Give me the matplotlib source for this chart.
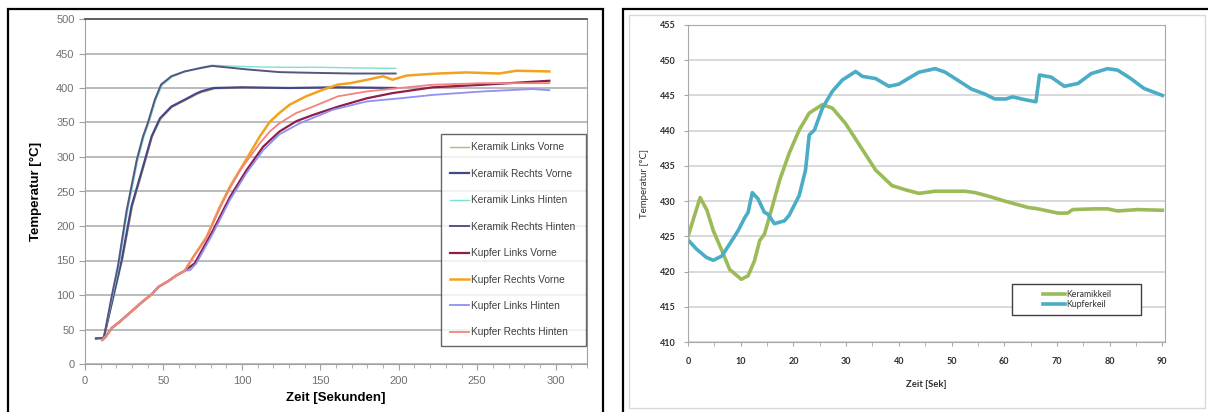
import matplotlib
matplotlib.use("Agg")
import matplotlib.pyplot as plt
from matplotlib.patches import Rectangle

# ---- left panel: Keramik / Kupfer heating curves ----
krh_t = [7, 12, 17, 21, 26.5, 33, 37, 40, 44.5, 48.5, 55, 63.5, 74, 81, 90, 103, 124, 145, 170, 198]
krh_T = [37, 38, 98, 142, 222, 296, 330, 349, 383, 405, 417, 424, 429, 432, 430, 427, 423, 422, 421, 421]
klh_t = [7, 12, 17.5, 21.6, 27.2, 33.7, 37.7, 40.7, 45.2, 49.2, 55.5, 64, 74, 81, 90, 103, 124, 150, 175, 198]
klh_T = [37, 38, 98, 142, 222, 296, 330, 349, 383, 404, 416, 424, 430, 433, 432, 431, 430, 430, 429, 428.5]
krv_t = [7, 12, 18, 23.5, 29.7, 37, 42.5, 47.8, 55, 63.5, 71, 74, 82, 100, 130, 160, 198]
krv_T = [37, 38, 98, 152, 229, 286, 330, 356, 373, 383, 392, 395, 400, 401, 400, 401, 400]
klv_t = [7, 12, 18.4, 24, 30.3, 37.6, 43, 48.3, 55.5, 64, 71.5, 75, 83, 100, 130, 160, 198]
klv_T = [37, 38, 98, 152, 229, 286, 330, 355, 372, 382, 391, 394, 399, 400, 400, 400, 400]

kup_t0 = [11, 13, 17, 22, 27.5, 30, 36.5, 42.5, 47, 53, 58, 63.5]
kup_T0 = [35, 39, 52, 61, 72, 77, 90, 101, 112, 120, 128, 135]
krvo_t = kup_t0 + [69, 77.5, 86, 92.4, 98.7, 105, 111.5, 117.8, 124, 130.6, 141, 151.8,
                   161.3, 169, 180, 190, 196, 205, 211, 225, 243, 264, 275, 296]
krvo_T = kup_T0 + [155, 184, 228, 257, 281, 305, 330, 351, 364, 376, 388, 397.6,
                   405, 407, 412, 417, 412, 418, 419, 421, 422.6, 421, 425, 424]
krhi_t = kup_t0 + [69, 77.5, 86, 92.4, 98.7, 105, 111.5, 117.8, 124, 134.8, 145.4,
                   161.3, 179.5, 200.6, 221.7, 253.5, 296]
krhi_T = kup_T0 + [155, 183, 226, 255, 280, 300, 320, 337, 349, 364, 373,
                   388, 395, 400, 404.7, 407, 407]
klvo_t = kup_t0 + [70, 81.7, 92.4, 103, 113.6, 124, 134.8, 145.4, 161.3, 179.5,
                   196, 221.7, 253.5, 296]
klvo_T = kup_T0 + [146, 194, 242, 281, 315, 337, 352, 361, 373, 385,
                   392.6, 401, 404.7, 410.5]
klhi_t = kup_t0 + [67, 71, 81.7, 92.4, 103, 113.6, 124, 137, 158, 179.5,
                   200.6, 221.7, 253.5, 285, 296]
klhi_T = kup_T0 + [136, 146, 190, 238, 277, 310, 333, 349, 368.5, 380.5,
                   385, 390, 395, 398.5, 396.8]

left_series = [
    ("Keramik Links Vorne", klv_t, klv_T, "#B8B874", 1.0),
    ("Keramik Rechts Vorne", krv_t, krv_T, "#46468A", 1.6),
    ("Keramik Links Hinten", klh_t, klh_T, "#7FE0D2", 1.0),
    ("Keramik Rechts Hinten", krh_t, krh_T, "#55557F", 1.4),
    ("Kupfer Links Vorne", klvo_t, klvo_T, "#8C1F4C", 1.6),
    ("Kupfer Rechts Vorne", krvo_t, krvo_T, "#F2A21E", 1.8),
    ("Kupfer Links Hinten", klhi_t, klhi_T, "#9090F2", 1.3),
    ("Kupfer Rechts Hinten", krhi_t, krhi_T, "#F2837E", 1.3),
]

# ---- right panel: Keramikkeil / Kupferkeil ----
ker_t = [0, 2.3, 3.6, 4.8, 6.7, 7.9, 10.1, 11.4, 12.6, 13.6, 14.5, 15.8, 17.4, 19.2,
         21.1, 23, 25.5, 27.4, 29.9, 32.5, 35.6, 38.7, 41.3, 43.8, 46.9, 49.4, 52.6,
         54.5, 57, 60.1, 64.5, 66.4, 70.2, 72, 73, 77.1, 79.6, 81.5, 85.3, 90]
ker_T = [425, 430.5, 428.7, 425.8, 422.5, 420.3, 418.9, 419.4, 421.5, 424.4, 425.3,
         428.7, 433, 436.8, 440.1, 442.5, 443.7, 443.2, 441, 438, 434.4, 432.2, 431.6,
         431.1, 431.4, 431.4, 431.4, 431.2, 430.7, 430, 429.1, 428.9, 428.3, 428.3,
         428.8, 428.9, 428.9, 428.6, 428.8, 428.7]
kup_t = [0, 1.6, 3.5, 4.8, 6.4, 7.9, 9.5, 10.8, 11.4, 12.2, 13.3, 14.5, 15.1, 16.4,
         18.3, 19.2, 21.1, 22.3, 23, 24, 25.5, 27.4, 29.3, 31.8, 33.1, 35.6, 38.1, 40,
         43.8, 46.9, 48.8, 51.3, 53.8, 56.3, 58.2, 60.3, 61.6, 63.9, 66, 66.7, 68.9,
         71.4, 74, 76.5, 79.6, 81.5, 84, 86.5, 90]
kup_T = [424.5, 423.2, 422, 421.6, 422.2, 423.9, 425.8, 427.7, 428.4, 431.2, 430.3,
         428.4, 428.2, 426.8, 427.2, 428, 430.8, 434.4, 439.4, 440.1, 443.2, 445.6,
         447.2, 448.4, 447.7, 447.4, 446.3, 446.6, 448.3, 448.8, 448.3, 447.1, 445.9,
         445.2, 444.5, 444.5, 444.8, 444.4, 444.1, 447.9, 447.6, 446.3, 446.7, 448.1,
         448.8, 448.6, 447.4, 446, 445]

W, H = 1208, 412
fig = plt.figure(figsize=(W / 100, H / 100), dpi=100)


def fx(px):
    return px / W


def fy(py):
    return 1 - py / H


# panel frames
fig.add_artist(Rectangle((fx(8), -0.05), fx(603) - fx(8), fy(9) + 0.05,
                         transform=fig.transFigure, fill=False,
                         edgecolor="black", linewidth=1.6))
fig.add_artist(Rectangle((fx(623), -0.05), 0.6, fy(9) + 0.05,
                         transform=fig.transFigure, fill=False,
                         edgecolor="black", linewidth=1.6))
fig.add_artist(Rectangle((fx(629), fy(408)), fx(1205) - fx(629), fy(15) - fy(408),
                         transform=fig.transFigure, fill=False,
                         edgecolor="#d9d9d9", linewidth=1.0))

# ---- left axes ----
ax = fig.add_axes([fx(85), fy(364), fx(587) - fx(85), fy(19) - fy(364)])
for lab, t, T, c, lw in left_series:
    ax.plot(t, T, color=c, linewidth=lw, label=lab)
ax.set_xlim(0, 320)
ax.set_ylim(0, 500)
ax.set_xticks(range(0, 301, 50))
ax.set_xticks(range(0, 321, 10), minor=True)
ax.set_yticks(range(0, 501, 50))
ax.yaxis.grid(True, color="#a8a8a8", linewidth=1.1)
ax.set_axisbelow(True)
for s in ["left", "bottom", "right"]:
    ax.spines[s].set_color("#a0a0a0")
ax.spines["top"].set_color("#606060")
ax.spines["top"].set_linewidth(1.4)
ax.tick_params(axis="both", colors="#a0a0a0", labelcolor="#707070",
               labelsize=8, length=4)
ax.tick_params(axis="x", which="minor", colors="#a0a0a0", length=3)
ax.tick_params(axis="x", pad=5)
for tl in ax.get_xticklabels() + ax.get_yticklabels():
    tl.set_family("Liberation Sans")
ax.set_xlabel("Zeit [Sekunden]", fontsize=9.5, fontweight="bold",
              family="Liberation Sans", labelpad=4)
ax.set_ylabel("Temperatur [°C]", fontsize=9.5, fontweight="bold",
              family="Liberation Sans", labelpad=10)
leg = ax.legend(loc="lower left", bbox_to_anchor=(0.710, 0.052, 0.288, 0.623),
                mode="expand", frameon=True, fancybox=False, borderaxespad=0,
                labelspacing=1.62, handlelength=1.9, handletextpad=0.15,
                borderpad=0.85, prop={"family": "Liberation Sans", "size": 7.3})
leg.get_frame().set_edgecolor("#404040")
leg.get_frame().set_linewidth(1.0)
for txt in leg.get_texts():
    txt.set_color("#404040")

# ---- right axes ----
ax2 = fig.add_axes([fx(688), fy(342), fx(1165) - fx(688), fy(25) - fy(342)])
ax2.plot(ker_t, ker_T, color="#9BBB59", linewidth=2.6, label="Keramikkeil")
ax2.plot(kup_t, kup_T, color="#4BACC6", linewidth=2.6, label="Kupferkeil")
ax2.set_xlim(0, 90.5)
ax2.set_ylim(410, 455)
ax2.set_xticks(range(0, 91, 10))
ax2.set_xticks(range(0, 91, 5), minor=True)
ax2.set_yticks(range(410, 456, 5))
ax2.yaxis.grid(True, color="#cfcfcf", linewidth=1.1)
ax2.set_axisbelow(True)
for s in ["left", "bottom", "right", "top"]:
    ax2.spines[s].set_color("#a8a8a8")
ax2.tick_params(axis="both", colors="#a8a8a8", labelcolor="#303030",
                labelsize=6.5, length=3)
ax2.tick_params(axis="x", which="minor", colors="#a8a8a8", length=3)
ax2.tick_params(axis="x", pad=8)
ax2.tick_params(axis="y", pad=6)
for tl in ax2.get_xticklabels() + ax2.get_yticklabels():
    tl.set_family("Lato")
    tl.set_fontweight("bold")
ax2.set_xlabel("Zeit [Sek]", fontsize=6.8, fontweight="bold", family="Lato",
               color="#303030", labelpad=10)
ax2.set_ylabel("Temperatur [°C]", fontsize=7, family="Lato",
               color="#303030", labelpad=8)
# legend box (Excel-style, entries centred in a wider frame)
box = (0.68, 0.085, 0.27, 0.098)
ax2.add_patch(Rectangle(box[:2], box[2], box[3], transform=ax2.transAxes,
                        facecolor="white", edgecolor="#404040", linewidth=1.0,
                        zorder=4))
leg2 = ax2.legend(loc="center", bbox_to_anchor=(box[0] + box[2] / 2, box[1] + box[3] / 2),
                  frameon=False, prop={"family": "Lato", "size": 6.3},
                  labelspacing=0.15, handlelength=2.6, handletextpad=0.05,
                  borderpad=0.0)
leg2.set_zorder(5)
for txt in leg2.get_texts():
    txt.set_color("#303030")

fig.savefig("out.png", dpi=100)
